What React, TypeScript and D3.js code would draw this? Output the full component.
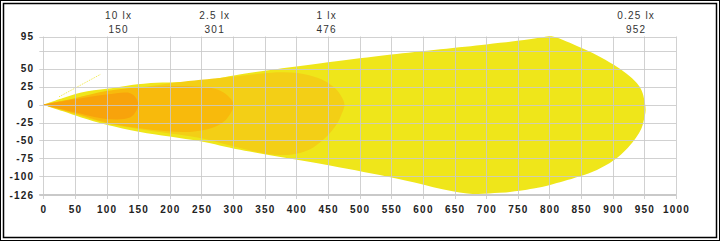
import React from "react";
import * as d3 from "d3";

// Isolux zones (x = distance, y = lateral), outlines start & end at the lamp (0,0)
const zone025X = [0, 30, 60, 100, 130, 170, 250, 310, 450, 550, 700, 760, 790, 805, 827, 848, 875, 901, 922, 938, 946, 950, 952, 949, 945, 937, 924, 901, 875, 848, 822, 801, 775, 753, 721, 670, 558, 453, 311, 248, 153, 100, 60, 30, 0];
const zone025Y = [0, 9, 17, 22, 26, 30, 33, 42, 59, 70, 84, 90, 94, 95, 88, 80, 69, 56, 43, 30, 19, 6, -8, -22, -34, -46, -60, -78, -91, -100, -107, -112, -117, -120, -123, -124, -103, -85, -63, -51, -38, -28, -18, -9, 0];

const zone1X = [0, 50, 100, 170, 220, 300, 380, 420, 445, 462, 472, 476, 472, 464, 445, 420, 390, 350, 300, 250, 150, 100, 50, 0];
const zone1Y = [0, 9, 18, 26, 32, 39, 45, 41, 33, 22, 10, 0, -12, -27, -47, -63, -70, -68, -58, -47, -34, -26, -13, 0];

const zone25X = [0, 50, 100, 170, 250, 275, 292, 301, 296, 285, 265, 232, 170, 100, 50, 0];
const zone25Y = [0, 9, 19, 25, 25, 21, 12, 0, -12, -24, -33, -38, -35, -25, -12, 0];

const zone10X = [0, 47, 100, 137, 146, 150, 146, 137, 100, 47, 0];
const zone10Y = [0, 7, 14, 16, 10, 0, -10, -18, -20, -10, 0];

const wispX = [25, 90];
const wispY = [11, 42];

const zoneColors = ["#EFE61A", "#F3CF16", "#F8BA0C", "#F8A30B"];

const topLabelLux = ["10 lx", "2.5 lx", "1 lx", "0.25 lx"];
const topLabelDist = ["150", "301", "476", "952"];
const topLabelPos = [119, 271, 448, 937];

const xTicks = [0, 50, 100, 150, 200, 250, 300, 350, 400, 450, 500, 550, 600, 650, 700, 750, 800, 850, 900, 950, 1000];
const yGrid = [95, 75, 50, 25, 0, -25, -50, -75, -100, -125];
const yLabels = [95, 50, 25, 0, -25, -50, -75, -100, -126];

const W = 720;
const H = 241;
const left = 43.3;
const right = 676;
const top = 36.5;
const bottom = 195;

export default function App() {
  const x = d3.scaleLinear().domain([0, 1000]).range([left, right]);
  const y = d3.scaleLinear().domain([-126, 95]).range([bottom, top]);

  const line = d3
    .line<[number, number]>()
    .x((d) => x(d[0]))
    .y((d) => y(d[1]))
    .curve(d3.curveCatmullRom.alpha(0.5));

  const zones = [
    { xs: zone025X, ys: zone025Y },
    { xs: zone1X, ys: zone1Y },
    { xs: zone25X, ys: zone25Y },
    { xs: zone10X, ys: zone10Y },
  ];

  const font = "'Liberation Sans', Arial, sans-serif";
  const gridColor = "#C9C9C9";

  return (
    <svg
      width={W}
      height={H}
      style={{ position: "fixed", left: 0, top: 0, background: "#fff" }}
    >
      <rect x={0.5} y={0.5} width={W - 1} height={H - 1} fill="#fff" stroke="#000" strokeWidth={1} />
      <rect x={3.5} y={3.5} width={W - 7} height={H - 7} fill="none" stroke="#000" strokeWidth={1.5} />

      {zones.map((z, i) => (
        <path
          key={i}
          d={line(z.xs.map((v, k) => [v, z.ys[k]] as [number, number])) || ""}
          fill={zoneColors[i]}
          stroke="none"
        />
      ))}
      <path
        d={d3.line<[number, number]>().x((d) => x(d[0])).y((d) => y(d[1]))(wispX.map((v, k) => [v, wispY[k]] as [number, number])) || ""}
        stroke="#F2EA40"
        strokeWidth={1}
        strokeDasharray="1,1"
        fill="none"
      />

      {/* grid */}
      {yGrid.map((v) => (
        <line key={"h" + v} x1={left - 4} x2={right} y1={Math.round(y(v)) + 0.5} y2={Math.round(y(v)) + 0.5} stroke={gridColor} strokeOpacity={0.85} />
      ))}
      {xTicks.map((v) => (
        <line key={"v" + v} x1={Math.round(x(v)) + 0.5} x2={Math.round(x(v)) + 0.5} y1={top} y2={bottom + 4} stroke={gridColor} strokeOpacity={0.85} />
      ))}
      <line x1={left - 4} x2={right} y1={bottom} y2={bottom} stroke={gridColor} strokeWidth={2} />

      {/* y labels */}
      {yLabels.map((v) => (
        <text
          key={"yl" + v}
          x={left - 9}
          y={y(v)}
          dy="0.35em"
          textAnchor="end"
          fontFamily={font}
          fontSize={10}
          fontWeight="bold"
          letterSpacing={1.2}
          fill="#222"
        >
          {v}
        </text>
      ))}
      {/* x labels */}
      {xTicks.map((v) => (
        <text
          key={"xl" + v}
          x={x(v) + 0.6}
          y={213}
          textAnchor="middle"
          fontFamily={font}
          fontSize={10}
          fontWeight="bold"
          letterSpacing={1.2}
          fill="#222"
        >
          {v}
        </text>
      ))}
      {/* top labels */}
      {topLabelLux.map((t, i) => (
        <g key={"tl" + i}>
          <text x={x(topLabelPos[i])} y={18.5} textAnchor="middle" fontFamily={font} fontSize={10} letterSpacing={1.2} fill="#333">
            {t}
          </text>
          <text x={x(topLabelPos[i])} y={32.5} textAnchor="middle" fontFamily={font} fontSize={10} letterSpacing={1.2} fill="#333">
            {topLabelDist[i]}
          </text>
        </g>
      ))}
    </svg>
  );
}
